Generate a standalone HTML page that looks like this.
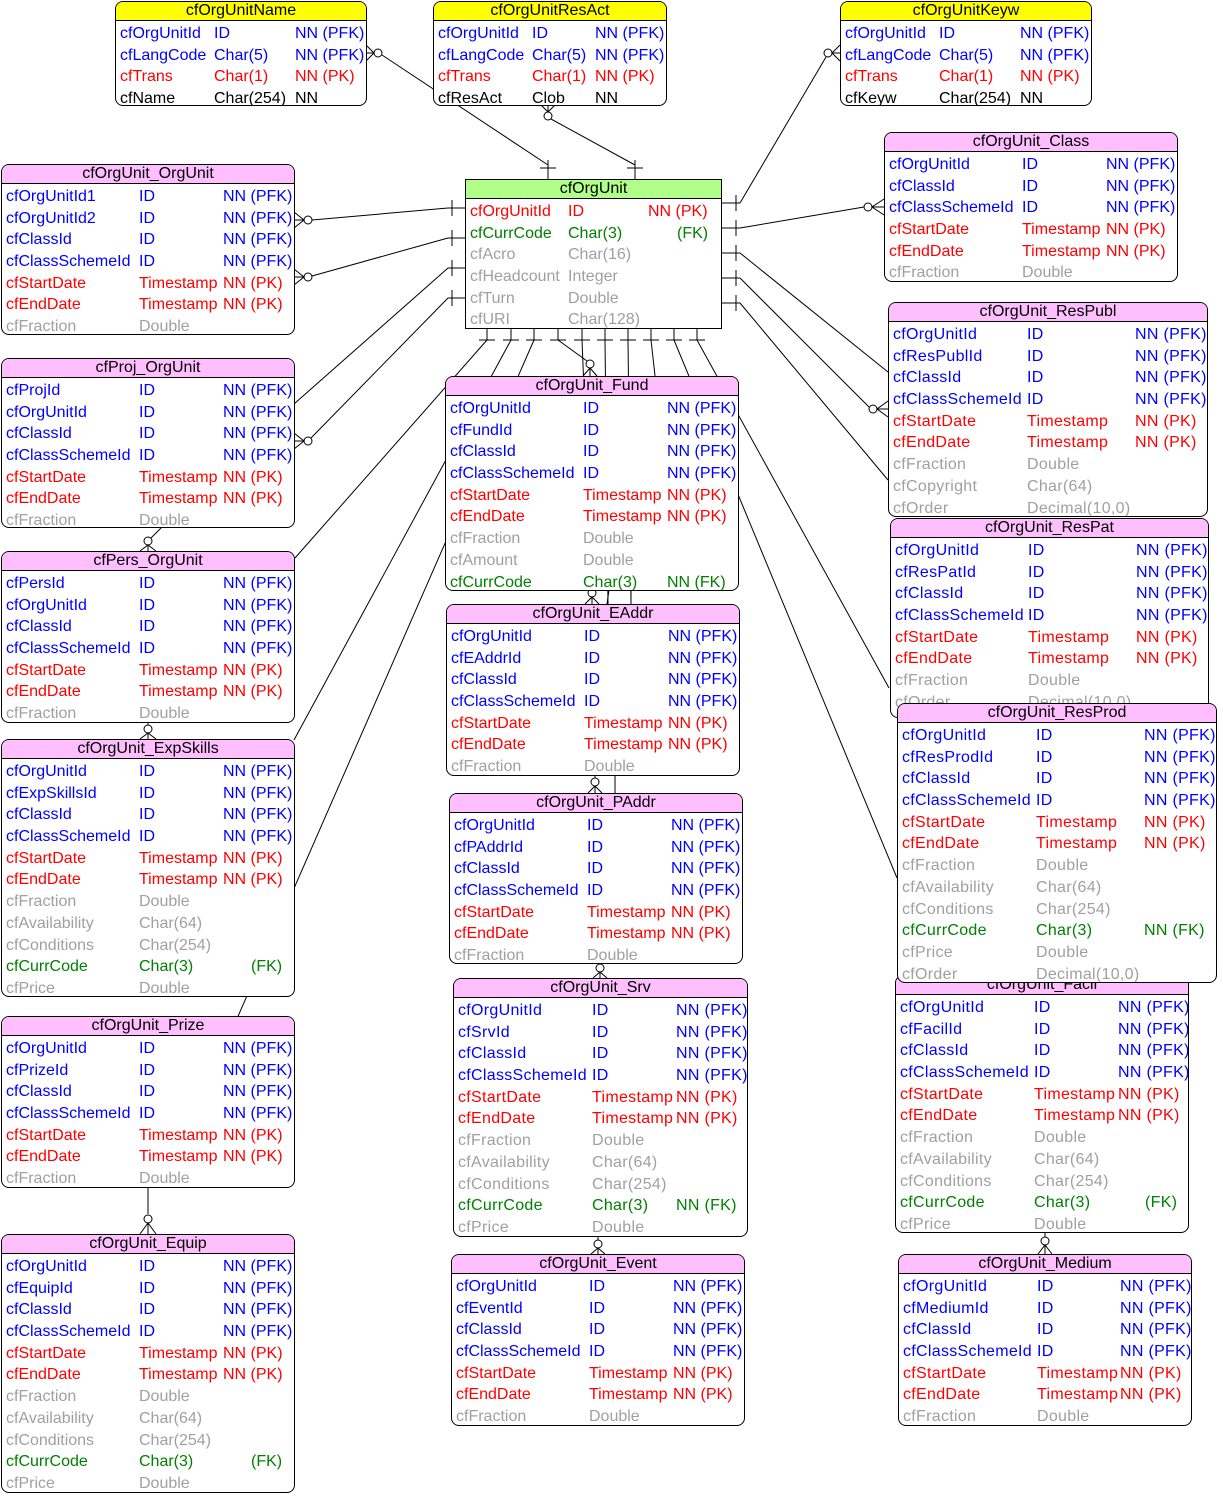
<!DOCTYPE html>
<html><head><meta charset="utf-8">
<style>
html,body{margin:0;padding:0;background:#fff;}
body{width:1223px;height:1498px;position:relative;overflow:hidden;font-family:"Liberation Sans",Arial,sans-serif;font-size:16px;}
svg{position:absolute;left:0;top:0;}
.t{position:absolute;border:1px solid #000;border-radius:8px;background:#fff;overflow:hidden;box-sizing:border-box;}
.h{height:18px;line-height:18px;background:#ffbfff;border-bottom:1px solid #000;text-align:center;color:#000;white-space:nowrap;margin-bottom:2px;}
.y .h{background:#ffff00;}
.r{position:relative;height:21.7px;line-height:21.7px;white-space:nowrap;}
.r span{position:absolute;top:0;}
.r span:nth-child(1){left:4px;}
.r span:nth-child(2){left:var(--b);}
.r span:nth-child(3){left:var(--c);}
.B{color:#0000ff}.R{color:#ff0000}.G{color:#a0a0a0}.K{color:#000}.N{color:#008000}
.w .r{letter-spacing:0.3px;}
</style></head><body>
<svg width="1223" height="1498" viewBox="0 0 1223 1498" fill="none" stroke="#000" stroke-width="1">
<path d="M366 45 L374 53 L366 61 M366 53 L374 53"/><circle cx="378" cy="53" r="4"/>
<path d="M382 55 L548 165"/>
<path d="M548 160 V179 M540 168 H556"/>
<path d="M541 105 L548 112 L555 105 M548 105 V112"/><circle cx="548" cy="116" r="4"/>
<path d="M551 119 L635 165 M635 160 V179 M627 168 H643"/>
<path d="M840 45 L832 53 L840 61 M840 53 H832"/><circle cx="828" cy="53" r="4"/>
<path d="M826 57 L740 203"/>
<path d="M721 203 H740 M736 195 V211 M721 228 H740 M736 220 V236 M721 253 H740 M736 245 V261 M721 278 H740 M736 270 V286 M721 303 H740 M736 295 V311"/>
<path d="M740 228 L864 207"/><circle cx="868" cy="207" r="4"/><path d="M884 199 L872 207 L884 215 M872 207 H884"/>
<path d="M740 253 L888 372"/>
<path d="M740 278 L869 407"/><circle cx="873" cy="409" r="4"/><path d="M888 401 L877 409 L888 417 M877 409 H888"/>
<path d="M740 303 L888 480"/>
<path d="M448 208 H465 M452 200 V216 M448 238 H465 M452 230 V246 M448 268 H465 M452 260 V276 M448 298 H465 M452 290 V306"/>
<path d="M448 208 L312 220"/><circle cx="308" cy="220" r="4"/><path d="M294 212 L304 220 L294 228 M304 220 H294"/>
<path d="M448 238 L312 276"/><circle cx="308" cy="277" r="4"/><path d="M294 269 L304 277 L294 285 M304 277 H294"/>
<path d="M448 268 L294 404"/>
<path d="M448 298 L311 438"/><circle cx="308" cy="441" r="4"/><path d="M294 433 L304 441 L294 449 M304 441 H294"/>
<path d="M487 328 V340 M511 328 V340 M534 328 V340 M558 328 V340 M582 328 V340 M605 328 V340 M628 328 V340 M651 328 V340 M674 328 V340 M697 328 V340"/>
<path d="M479 340 H495 M503 340 H519 M526 340 H542 M550 340 H566 M574 340 H590 M597 340 H613 M620 340 H636 M643 340 H659 M666 340 H682 M689 340 H705"/>
<path d="M487 340 L295 558 M511 340 L294 740 M534 340 L232 1030 M558 340 L587 361 M582 340 L592 589 M605 340 L608 604 M628 340 L631 604 M651 340 L660 420 M674 340 L897 878 M697 340 L889 688"/>
<circle cx="590" cy="364" r="4"/><path d="M583 376 L590 368 L597 376 M590 368 V376"/>
<path d="M162 527 L151 538"/><circle cx="148" cy="541" r="4"/><path d="M140 551 L148 545 L156 551 M148 545 V551"/>
<path d="M148 722 V725"/><circle cx="148" cy="729" r="4"/><path d="M140 739 L148 733 L156 739 M148 733 V739"/>
<path d="M148 1187 V1214"/><circle cx="148" cy="1219" r="4"/><path d="M140 1234 L148 1223 L156 1234 M148 1223 V1234"/>
<circle cx="592" cy="593" r="4"/><path d="M585 604 L592 597 L599 604 M592 597 V604 M609 590 L607 604 M631 590 V604"/>
<path d="M595 775 V778"/><circle cx="595" cy="782" r="4"/><path d="M588 793 L595 786 L602 793 M595 786 V793 M615 775 V793"/>
<path d="M600 963 V964"/><circle cx="600" cy="968" r="4"/><path d="M593 978 L600 972 L607 978 M600 972 V978"/>
<path d="M598 1236 V1240"/><circle cx="598" cy="1244" r="4"/><path d="M591 1254 L598 1248 L605 1254 M598 1248 V1254"/>
<path d="M1045 1232 V1237"/><circle cx="1045" cy="1241" r="4"/><path d="M1038 1254 L1045 1245 L1052 1254 M1045 1245 V1254"/>
</svg>

<div class="t y" style="left:115px;top:1px;width:252px;height:105px;--b:98px;--c:179px">
<div class="h">cfOrgUnitName</div>
<div class="r B"><span>cfOrgUnitId</span><span>ID</span><span>NN (PFK)</span></div>
<div class="r B"><span>cfLangCode</span><span>Char(5)</span><span>NN (PFK)</span></div>
<div class="r R"><span>cfTrans</span><span>Char(1)</span><span>NN (PK)</span></div>
<div class="r K"><span>cfName</span><span>Char(254)</span><span>NN</span></div>
</div>
<div class="t y" style="left:433px;top:1px;width:234px;height:105px;--b:98px;--c:161px">
<div class="h">cfOrgUnitResAct</div>
<div class="r B"><span>cfOrgUnitId</span><span>ID</span><span>NN (PFK)</span></div>
<div class="r B"><span>cfLangCode</span><span>Char(5)</span><span>NN (PFK)</span></div>
<div class="r R"><span>cfTrans</span><span>Char(1)</span><span>NN (PK)</span></div>
<div class="r K"><span>cfResAct</span><span>Clob</span><span>NN</span></div>
</div>
<div class="t y" style="left:840px;top:1px;width:252px;height:105px;--b:98px;--c:179px">
<div class="h">cfOrgUnitKeyw</div>
<div class="r B"><span>cfOrgUnitId</span><span>ID</span><span>NN (PFK)</span></div>
<div class="r B"><span>cfLangCode</span><span>Char(5)</span><span>NN (PFK)</span></div>
<div class="r R"><span>cfTrans</span><span>Char(1)</span><span>NN (PK)</span></div>
<div class="r K"><span>cfKeyw</span><span>Char(254)</span><span>NN</span></div>
</div>

<div class="t" style="left:465px;top:179px;width:257px;height:150px;border-radius:0;--b:102px;--c:182px">
<div class="h" style="background:#b0ff88">cfOrgUnit</div>
<div class="r R"><span>cfOrgUnitId</span><span>ID</span><span>NN (PK)</span></div>
<div class="r N"><span>cfCurrCode</span><span>Char(3)</span><span style="left:211px">(FK)</span></div>
<div class="r G"><span>cfAcro</span><span>Char(16)</span></div>
<div class="r G"><span>cfHeadcount</span><span>Integer</span></div>
<div class="r G"><span>cfTurn</span><span>Double</span></div>
<div class="r G"><span>cfURI</span><span>Char(128)</span></div>
</div>

<div class="t" style="left:1px;top:164px;width:294px;height:171px;--b:137px;--c:221px">
<div class="h">cfOrgUnit_OrgUnit</div>
<div class="r B"><span>cfOrgUnitId1</span><span>ID</span><span>NN (PFK)</span></div>
<div class="r B"><span>cfOrgUnitId2</span><span>ID</span><span>NN (PFK)</span></div>
<div class="r B"><span>cfClassId</span><span>ID</span><span>NN (PFK)</span></div>
<div class="r B"><span>cfClassSchemeId</span><span>ID</span><span>NN (PFK)</span></div>
<div class="r R"><span>cfStartDate</span><span>Timestamp</span><span>NN (PK)</span></div>
<div class="r R"><span>cfEndDate</span><span>Timestamp</span><span>NN (PK)</span></div>
<div class="r G"><span>cfFraction</span><span>Double</span></div>
</div>
<div class="t" style="left:1px;top:358px;width:294px;height:170px;--b:137px;--c:221px">
<div class="h">cfProj_OrgUnit</div>
<div class="r B"><span>cfProjId</span><span>ID</span><span>NN (PFK)</span></div>
<div class="r B"><span>cfOrgUnitId</span><span>ID</span><span>NN (PFK)</span></div>
<div class="r B"><span>cfClassId</span><span>ID</span><span>NN (PFK)</span></div>
<div class="r B"><span>cfClassSchemeId</span><span>ID</span><span>NN (PFK)</span></div>
<div class="r R"><span>cfStartDate</span><span>Timestamp</span><span>NN (PK)</span></div>
<div class="r R"><span>cfEndDate</span><span>Timestamp</span><span>NN (PK)</span></div>
<div class="r G"><span>cfFraction</span><span>Double</span></div>
</div>
<div class="t" style="left:1px;top:551px;width:294px;height:172px;--b:137px;--c:221px">
<div class="h">cfPers_OrgUnit</div>
<div class="r B"><span>cfPersId</span><span>ID</span><span>NN (PFK)</span></div>
<div class="r B"><span>cfOrgUnitId</span><span>ID</span><span>NN (PFK)</span></div>
<div class="r B"><span>cfClassId</span><span>ID</span><span>NN (PFK)</span></div>
<div class="r B"><span>cfClassSchemeId</span><span>ID</span><span>NN (PFK)</span></div>
<div class="r R"><span>cfStartDate</span><span>Timestamp</span><span>NN (PK)</span></div>
<div class="r R"><span>cfEndDate</span><span>Timestamp</span><span>NN (PK)</span></div>
<div class="r G"><span>cfFraction</span><span>Double</span></div>
</div>
<div class="t" style="left:1px;top:739px;width:294px;height:258px;--b:137px;--c:221px">
<div class="h">cfOrgUnit_ExpSkills</div>
<div class="r B"><span>cfOrgUnitId</span><span>ID</span><span>NN (PFK)</span></div>
<div class="r B"><span>cfExpSkillsId</span><span>ID</span><span>NN (PFK)</span></div>
<div class="r B"><span>cfClassId</span><span>ID</span><span>NN (PFK)</span></div>
<div class="r B"><span>cfClassSchemeId</span><span>ID</span><span>NN (PFK)</span></div>
<div class="r R"><span>cfStartDate</span><span>Timestamp</span><span>NN (PK)</span></div>
<div class="r R"><span>cfEndDate</span><span>Timestamp</span><span>NN (PK)</span></div>
<div class="r G"><span>cfFraction</span><span>Double</span></div>
<div class="r G"><span>cfAvailability</span><span>Char(64)</span></div>
<div class="r G"><span>cfConditions</span><span>Char(254)</span></div>
<div class="r N"><span>cfCurrCode</span><span>Char(3)</span><span style="left:249px">(FK)</span></div>
<div class="r G"><span>cfPrice</span><span>Double</span></div>
</div>
<div class="t" style="left:1px;top:1016px;width:294px;height:172px;--b:137px;--c:221px">
<div class="h">cfOrgUnit_Prize</div>
<div class="r B"><span>cfOrgUnitId</span><span>ID</span><span>NN (PFK)</span></div>
<div class="r B"><span>cfPrizeId</span><span>ID</span><span>NN (PFK)</span></div>
<div class="r B"><span>cfClassId</span><span>ID</span><span>NN (PFK)</span></div>
<div class="r B"><span>cfClassSchemeId</span><span>ID</span><span>NN (PFK)</span></div>
<div class="r R"><span>cfStartDate</span><span>Timestamp</span><span>NN (PK)</span></div>
<div class="r R"><span>cfEndDate</span><span>Timestamp</span><span>NN (PK)</span></div>
<div class="r G"><span>cfFraction</span><span>Double</span></div>
</div>
<div class="t" style="left:1px;top:1234px;width:294px;height:259px;--b:137px;--c:221px">
<div class="h">cfOrgUnit_Equip</div>
<div class="r B"><span>cfOrgUnitId</span><span>ID</span><span>NN (PFK)</span></div>
<div class="r B"><span>cfEquipId</span><span>ID</span><span>NN (PFK)</span></div>
<div class="r B"><span>cfClassId</span><span>ID</span><span>NN (PFK)</span></div>
<div class="r B"><span>cfClassSchemeId</span><span>ID</span><span>NN (PFK)</span></div>
<div class="r R"><span>cfStartDate</span><span>Timestamp</span><span>NN (PK)</span></div>
<div class="r R"><span>cfEndDate</span><span>Timestamp</span><span>NN (PK)</span></div>
<div class="r G"><span>cfFraction</span><span>Double</span></div>
<div class="r G"><span>cfAvailability</span><span>Char(64)</span></div>
<div class="r G"><span>cfConditions</span><span>Char(254)</span></div>
<div class="r N"><span>cfCurrCode</span><span>Char(3)</span><span style="left:249px">(FK)</span></div>
<div class="r G"><span>cfPrice</span><span>Double</span></div>
</div>

<div class="t" style="left:445px;top:376px;width:294px;height:215px;--b:137px;--c:221px">
<div class="h">cfOrgUnit_Fund</div>
<div class="r B"><span>cfOrgUnitId</span><span>ID</span><span>NN (PFK)</span></div>
<div class="r B"><span>cfFundId</span><span>ID</span><span>NN (PFK)</span></div>
<div class="r B"><span>cfClassId</span><span>ID</span><span>NN (PFK)</span></div>
<div class="r B"><span>cfClassSchemeId</span><span>ID</span><span>NN (PFK)</span></div>
<div class="r R"><span>cfStartDate</span><span>Timestamp</span><span>NN (PK)</span></div>
<div class="r R"><span>cfEndDate</span><span>Timestamp</span><span>NN (PK)</span></div>
<div class="r G"><span>cfFraction</span><span>Double</span></div>
<div class="r G"><span>cfAmount</span><span>Double</span></div>
<div class="r N"><span>cfCurrCode</span><span>Char(3)</span><span>NN (FK)</span></div>
</div>
<div class="t" style="left:446px;top:604px;width:294px;height:172px;--b:137px;--c:221px">
<div class="h">cfOrgUnit_EAddr</div>
<div class="r B"><span>cfOrgUnitId</span><span>ID</span><span>NN (PFK)</span></div>
<div class="r B"><span>cfEAddrId</span><span>ID</span><span>NN (PFK)</span></div>
<div class="r B"><span>cfClassId</span><span>ID</span><span>NN (PFK)</span></div>
<div class="r B"><span>cfClassSchemeId</span><span>ID</span><span>NN (PFK)</span></div>
<div class="r R"><span>cfStartDate</span><span>Timestamp</span><span>NN (PK)</span></div>
<div class="r R"><span>cfEndDate</span><span>Timestamp</span><span>NN (PK)</span></div>
<div class="r G"><span>cfFraction</span><span>Double</span></div>
</div>
<div class="t" style="left:449px;top:793px;width:294px;height:171px;--b:137px;--c:221px">
<div class="h">cfOrgUnit_PAddr</div>
<div class="r B"><span>cfOrgUnitId</span><span>ID</span><span>NN (PFK)</span></div>
<div class="r B"><span>cfPAddrId</span><span>ID</span><span>NN (PFK)</span></div>
<div class="r B"><span>cfClassId</span><span>ID</span><span>NN (PFK)</span></div>
<div class="r B"><span>cfClassSchemeId</span><span>ID</span><span>NN (PFK)</span></div>
<div class="r R"><span>cfStartDate</span><span>Timestamp</span><span>NN (PK)</span></div>
<div class="r R"><span>cfEndDate</span><span>Timestamp</span><span>NN (PK)</span></div>
<div class="r G"><span>cfFraction</span><span>Double</span></div>
</div>
<div class="t w" style="left:453px;top:978px;width:295px;height:259px;--b:138px;--c:222px">
<div class="h">cfOrgUnit_Srv</div>
<div class="r B"><span>cfOrgUnitId</span><span>ID</span><span>NN (PFK)</span></div>
<div class="r B"><span>cfSrvId</span><span>ID</span><span>NN (PFK)</span></div>
<div class="r B"><span>cfClassId</span><span>ID</span><span>NN (PFK)</span></div>
<div class="r B"><span>cfClassSchemeId</span><span>ID</span><span>NN (PFK)</span></div>
<div class="r R"><span>cfStartDate</span><span>Timestamp</span><span>NN (PK)</span></div>
<div class="r R"><span>cfEndDate</span><span>Timestamp</span><span>NN (PK)</span></div>
<div class="r G"><span>cfFraction</span><span>Double</span></div>
<div class="r G"><span>cfAvailability</span><span>Char(64)</span></div>
<div class="r G"><span>cfConditions</span><span>Char(254)</span></div>
<div class="r N"><span>cfCurrCode</span><span>Char(3)</span><span>NN (FK)</span></div>
<div class="r G"><span>cfPrice</span><span>Double</span></div>
</div>
<div class="t" style="left:451px;top:1254px;width:294px;height:172px;--b:137px;--c:221px">
<div class="h">cfOrgUnit_Event</div>
<div class="r B"><span>cfOrgUnitId</span><span>ID</span><span>NN (PFK)</span></div>
<div class="r B"><span>cfEventId</span><span>ID</span><span>NN (PFK)</span></div>
<div class="r B"><span>cfClassId</span><span>ID</span><span>NN (PFK)</span></div>
<div class="r B"><span>cfClassSchemeId</span><span>ID</span><span>NN (PFK)</span></div>
<div class="r R"><span>cfStartDate</span><span>Timestamp</span><span>NN (PK)</span></div>
<div class="r R"><span>cfEndDate</span><span>Timestamp</span><span>NN (PK)</span></div>
<div class="r G"><span>cfFraction</span><span>Double</span></div>
</div>

<div class="t" style="left:884px;top:132px;width:294px;height:150px;--b:137px;--c:221px">
<div class="h">cfOrgUnit_Class</div>
<div class="r B"><span>cfOrgUnitId</span><span>ID</span><span>NN (PFK)</span></div>
<div class="r B"><span>cfClassId</span><span>ID</span><span>NN (PFK)</span></div>
<div class="r B"><span>cfClassSchemeId</span><span>ID</span><span>NN (PFK)</span></div>
<div class="r R"><span>cfStartDate</span><span>Timestamp</span><span>NN (PK)</span></div>
<div class="r R"><span>cfEndDate</span><span>Timestamp</span><span>NN (PK)</span></div>
<div class="r G"><span>cfFraction</span><span>Double</span></div>
</div>
<div class="t w" style="left:888px;top:302px;width:320px;height:215px;--b:138px;--c:246px">
<div class="h">cfOrgUnit_ResPubl</div>
<div class="r B"><span>cfOrgUnitId</span><span>ID</span><span>NN (PFK)</span></div>
<div class="r B"><span>cfResPublId</span><span>ID</span><span>NN (PFK)</span></div>
<div class="r B"><span>cfClassId</span><span>ID</span><span>NN (PFK)</span></div>
<div class="r B"><span>cfClassSchemeId</span><span>ID</span><span>NN (PFK)</span></div>
<div class="r R"><span>cfStartDate</span><span>Timestamp</span><span>NN (PK)</span></div>
<div class="r R"><span>cfEndDate</span><span>Timestamp</span><span>NN (PK)</span></div>
<div class="r G"><span>cfFraction</span><span>Double</span></div>
<div class="r G"><span>cfCopyright</span><span>Char(64)</span></div>
<div class="r G"><span>cfOrder</span><span>Decimal(10,0)</span></div>
</div>
<div class="t w" style="left:890px;top:518px;width:319px;height:200px;--b:137px;--c:245px">
<div class="h">cfOrgUnit_ResPat</div>
<div class="r B"><span>cfOrgUnitId</span><span>ID</span><span>NN (PFK)</span></div>
<div class="r B"><span>cfResPatId</span><span>ID</span><span>NN (PFK)</span></div>
<div class="r B"><span>cfClassId</span><span>ID</span><span>NN (PFK)</span></div>
<div class="r B"><span>cfClassSchemeId</span><span>ID</span><span>NN (PFK)</span></div>
<div class="r R"><span>cfStartDate</span><span>Timestamp</span><span>NN (PK)</span></div>
<div class="r R"><span>cfEndDate</span><span>Timestamp</span><span>NN (PK)</span></div>
<div class="r G"><span>cfFraction</span><span>Double</span></div>
<div class="r G"><span>cfOrder</span><span>Decimal(10,0)</span></div>
</div>
<div class="t w" style="left:895px;top:975px;width:294px;height:258px;--b:138px;--c:222px">
<div class="h">cfOrgUnit_Facil</div>
<div class="r B"><span>cfOrgUnitId</span><span>ID</span><span>NN (PFK)</span></div>
<div class="r B"><span>cfFacilId</span><span>ID</span><span>NN (PFK)</span></div>
<div class="r B"><span>cfClassId</span><span>ID</span><span>NN (PFK)</span></div>
<div class="r B"><span>cfClassSchemeId</span><span>ID</span><span>NN (PFK)</span></div>
<div class="r R"><span>cfStartDate</span><span>Timestamp</span><span>NN (PK)</span></div>
<div class="r R"><span>cfEndDate</span><span>Timestamp</span><span>NN (PK)</span></div>
<div class="r G"><span>cfFraction</span><span>Double</span></div>
<div class="r G"><span>cfAvailability</span><span>Char(64)</span></div>
<div class="r G"><span>cfConditions</span><span>Char(254)</span></div>
<div class="r N"><span>cfCurrCode</span><span>Char(3)</span><span style="left:249px">(FK)</span></div>
<div class="r G"><span>cfPrice</span><span>Double</span></div>
</div>
<div class="t w" style="left:897px;top:703px;width:320px;height:280px;--b:138px;--c:246px">
<div class="h">cfOrgUnit_ResProd</div>
<div class="r B"><span>cfOrgUnitId</span><span>ID</span><span>NN (PFK)</span></div>
<div class="r B"><span>cfResProdId</span><span>ID</span><span>NN (PFK)</span></div>
<div class="r B"><span>cfClassId</span><span>ID</span><span>NN (PFK)</span></div>
<div class="r B"><span>cfClassSchemeId</span><span>ID</span><span>NN (PFK)</span></div>
<div class="r R"><span>cfStartDate</span><span>Timestamp</span><span>NN (PK)</span></div>
<div class="r R"><span>cfEndDate</span><span>Timestamp</span><span>NN (PK)</span></div>
<div class="r G"><span>cfFraction</span><span>Double</span></div>
<div class="r G"><span>cfAvailability</span><span>Char(64)</span></div>
<div class="r G"><span>cfConditions</span><span>Char(254)</span></div>
<div class="r N"><span>cfCurrCode</span><span>Char(3)</span><span>NN (FK)</span></div>
<div class="r G"><span>cfPrice</span><span>Double</span></div>
<div class="r G"><span>cfOrder</span><span>Decimal(10,0)</span></div>
</div>
<div class="t w" style="left:898px;top:1254px;width:294px;height:172px;--b:138px;--c:221px">
<div class="h">cfOrgUnit_Medium</div>
<div class="r B"><span>cfOrgUnitId</span><span>ID</span><span>NN (PFK)</span></div>
<div class="r B"><span>cfMediumId</span><span>ID</span><span>NN (PFK)</span></div>
<div class="r B"><span>cfClassId</span><span>ID</span><span>NN (PFK)</span></div>
<div class="r B"><span>cfClassSchemeId</span><span>ID</span><span>NN (PFK)</span></div>
<div class="r R"><span>cfStartDate</span><span>Timestamp</span><span>NN (PK)</span></div>
<div class="r R"><span>cfEndDate</span><span>Timestamp</span><span>NN (PK)</span></div>
<div class="r G"><span>cfFraction</span><span>Double</span></div>
</div>
</body></html>
